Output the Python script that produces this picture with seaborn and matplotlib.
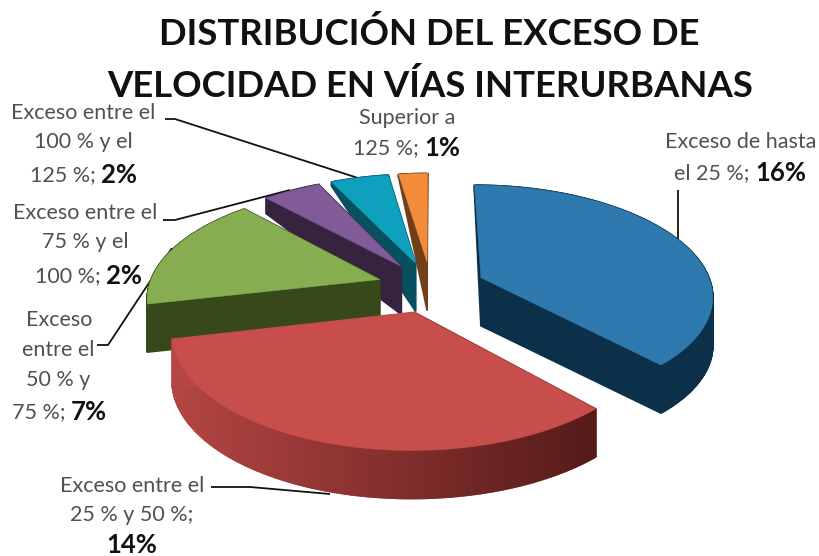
#exploded 3D style pie of speed excess on interurban roads
import matplotlib
matplotlib.use("Agg")
import matplotlib.pyplot as plt
import seaborn as sns
import numpy as np

sns.set_theme(style="white")
plt.rcParams["font.family"] = ["Lato", "DejaVu Sans"]

categorias = ["Exceso de hasta el 25 %", "Exceso entre el 25 % y 50 %", "Exceso entre el 50 % y 75 %",
              "Exceso entre el 75 % y el 100 %", "Exceso entre el 100 % y el 125 %", "Superior a 125 %"]
porcentajes = [16, 14, 7, 2, 2, 1]
colores_top = ["#2E79AE", "#C74E4B", "#87AD51", "#805B98", "#0EA0BC", "#F28C3A"]
colores_lado = ["#0C3049", "#7A2A28", "#37491B", "#35233F", "#06505F", "#70401A"]

#geometry of the fake perspective, in pixels
CX, CY = 431, 287
A, B, P = 231, 109, 0.15
H0 = 48
EXPLODE = 0.235
TEXT_C = "#505050"
FS = 15.5


def project(x, y, down=0.0):
    w = 1 + P * y
    return CX + A * x / w, CY - B * y / w + down * H0 * np.clip((1.2 - y) / 0.85, 0.05, 1)


def slice_outline(t1, t2):
    #t1 > t2, going clockwise, degrees
    mid = np.radians((t1 + t2) / 2)
    ox, oy = EXPLODE * np.cos(mid), EXPLODE * np.sin(mid)
    th = np.radians(np.linspace(t1, t2, max(int(t1 - t2) * 2, 8)))
    xs = np.r_[ox, ox + np.cos(th)]
    ys = np.r_[oy, oy + np.sin(th)]
    return xs, ys


def shade(col_a, col_b, f):
    a, b = np.array(matplotlib.colors.to_rgb(col_a)), np.array(matplotlib.colors.to_rgb(col_b))
    return tuple(a + (b - a) * f)


fig = plt.figure(figsize=(8.19, 5.56), dpi=100)
ax = fig.add_axes([0, 0, 1, 1])
ax.set_xlim(0, 819)
ax.set_ylim(556, 0)
ax.axis("off")

#angles from the values, clockwise from the top
total = sum(porcentajes)
ang = 90 - np.cumsum([0] + porcentajes) / total * 360

#back slices first
orden = [5, 4, 3, 2, 0, 1]
for i in orden:
    xs, ys = slice_outline(ang[i], ang[i + 1])
    n = len(xs)
    for k in range(n):
        j = (k + 1) % n
        xq = [xs[k], xs[j], xs[j], xs[k]]
        yq = [ys[k], ys[j], ys[j], ys[k]]
        dq = [0, 0, 1, 1]
        px, py = zip(*[project(xq[m], yq[m], dq[m]) for m in range(4)])
        col = colores_lado[i]
        if i == 1:
            #red rim goes darker to the right
            f = np.clip((px[0] - 170) / 420, 0, 1)
            col = shade("#B54643", "#561B19", f)
        ax.fill(px, py, color=col, lw=1.2, zorder=2 + orden.index(i) * 2)
    px, py = project(xs, ys)
    ax.fill(px, py, color=colores_top[i], lw=0.3, zorder=3 + orden.index(i) * 2)

#leader lines
lineas = [
    ([678, 678], [190, 240]),
    ([211, 250, 330], [487, 487, 494]),
    ([97, 108, 172], [345, 345, 248]),
    ([163, 175, 290], [220, 220, 190]),
    ([165, 175, 358], [119, 119, 178]),
]
for lx, ly in lineas:
    ax.plot(lx, ly, color="#111111", lw=1.3, zorder=1, solid_capstyle="butt")


def label(x, y, s, **kw):
    kw.setdefault("ha", "center")
    kw.setdefault("color", TEXT_C)
    kw.setdefault("fontsize", FS)
    ax.text(x, y, s, va="center", zorder=30, **kw)


def pct(x, y, s, p):
    #normal text ends where the bold part starts
    label(x, y, s, ha="right")
    label(x + 5, y, p, ha="left", color="#111111", fontweight="bold", fontsize=FS + 3)


ax.text(429, 34, "DISTRIBUCIÓN DEL EXCESO DE", ha="center", va="center", fontsize=26.3, fontweight="bold", color="#111111")
ax.text(430, 86, "VELOCIDAD EN VÍAS INTERURBANAS", ha="center", va="center", fontsize=26.3, fontweight="bold", color="#111111")

label(83, 113, "Exceso entre el")
label(83, 142, "100 % y el")
pct(96, 175, "125 %;", f"{porcentajes[4]}%")

label(85, 213, "Exceso entre el")
label(85, 242, "75 % y el")
pct(101, 276, "100 %;", f"{porcentajes[3]}%")

label(59, 320, "Exceso")
label(58, 350, "entre el")
label(58, 380, "50 % y")
pct(66, 412, "75 %;", f"{porcentajes[2]}%")

label(132, 486, "Exceso entre el")
label(132, 515, "25 % y 50 %;")
label(132, 545, f"{porcentajes[1]}%", color="#111111", fontweight="bold", fontsize=FS + 3)

label(407, 118, "Superior a")
pct(419, 148, "125 %;", f"{porcentajes[5]}%")

label(741, 142, "Exceso de hasta")
pct(750, 173, "el 25 %;", f"{porcentajes[0]}%")

plt.savefig("out.png", dpi=100)
